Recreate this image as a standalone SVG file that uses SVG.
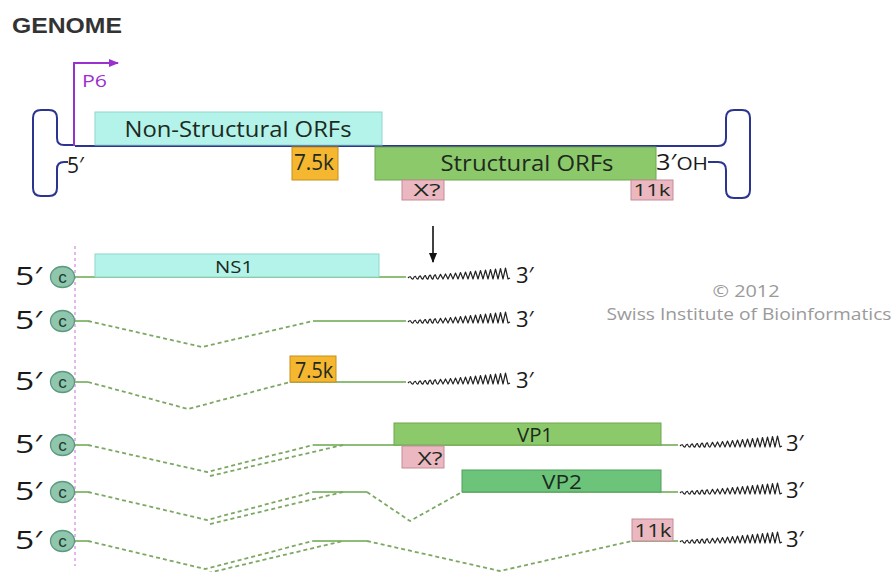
<svg xmlns="http://www.w3.org/2000/svg" xmlns:xlink="http://www.w3.org/1999/xlink" width="895" height="572" viewBox="0 0 895 572">
<style>
  .t{font-family:"Open Sans","Liberation Sans",sans-serif;fill:#1a1a1a}
  .hp{fill:none;stroke:#2b3590;stroke-width:2;stroke-linejoin:round}
  .ns{fill:#b3f3ea;stroke:#8fd6cc;stroke-width:1}
  .st{fill:#8cc96a;stroke:#6ea84f;stroke-width:1}
  .vp2{fill:#6cc47a;stroke:#4f9e5a;stroke-width:1}
  .or{fill:#f5b630;stroke:#c58f1c;stroke-width:1}
  .pk{fill:#ebb8c1;stroke:#c38c96;stroke-width:1}
  .sol{fill:none;stroke:#6aa84f;stroke-width:1.6}
  .dsh{fill:none;stroke:#7ca863;stroke-width:1.8;stroke-dasharray:4 3}
  .cap{fill:#8fc6ad;stroke:#5c9a80;stroke-width:1.3}
  .ct{font-family:"Liberation Sans",sans-serif;font-size:17px;fill:#1a3a2a;text-anchor:middle}
  .pa{fill:none;stroke:#222;stroke-width:1.2;stroke-linejoin:round}
  .lbl{font-family:"Open Sans","Liberation Sans",sans-serif;fill:#1d2a20;text-anchor:middle}
  .five{font-family:"Open Sans","Liberation Sans",sans-serif;font-size:26px;fill:#1a1a1a}
  .three{font-family:"Open Sans","Liberation Sans",sans-serif;font-size:22px;fill:#1a1a1a}
  .cp{font-family:"Open Sans","Liberation Sans",sans-serif;font-size:16px;fill:#9a9a9a;text-anchor:middle}
</style>
<defs>
  <path id="polyA" class="pa" d="M0,0 Q1.25,-1.5 2.5,-1.2 Q3.75,1.5 5,1 Q6.25,-2 7.5,-1.6 Q8.75,1.5 10,1 Q11.25,-2.4 12.5,-2 Q13.75,1.5 15,1 Q16.25,-2.8 17.5,-2.4 Q18.75,1.5 20,1 Q21.25,-3.2 22.5,-2.8 Q23.75,1.5 25,1 Q26.25,-3.6 27.5,-3.2 Q28.75,1.5 30,1 L32.5,-3.6 L35,1 L37.5,-4 L40,1 L42.5,-4.5 L45,1 L47.5,-5 L50,1 L52.5,-5.5 L55,1 L57.5,-6 L60,1 L62.5,-6.5 L65,1 L67.5,-7 L70,1 L72.5,-7.5 L75,1 L77.5,-8 L80,1 L82.5,-8.5 L85,1 L87.5,-9 L90,1 L92.5,-9.5 L95,1 L97.5,-10 L100,1 L102,0"/>
  <marker id="ahP" markerWidth="10" markerHeight="8" refX="9" refY="4" orient="auto" markerUnits="userSpaceOnUse">
    <path d="M0,0 L10,4 L0,8 Z" fill="#9b30d0"/>
  </marker>
  <marker id="ahK" markerWidth="8" markerHeight="10" refX="4" refY="9" orient="0" markerUnits="userSpaceOnUse">
    <path d="M0,0 L8,0 L4,10 Z" fill="#111"/>
  </marker>
</defs>
<rect width="895" height="572" fill="#fff"/>

<g id="title"><text x="12" y="33" font-family="Liberation Sans,Arial,sans-serif" font-weight="bold" font-size="22" textLength="110" lengthAdjust="spacingAndGlyphs" fill="#333">GENOME</text></g>

<g id="genome">
  <path class="hp" d="M75,145 L64,145 Q57,145 57,138 L57,118 Q57,110 49,110 L41,110 Q33,110 33,118 L33,188 Q33,196 41,196 L49,196 Q57,196 57,188 L57,169 Q57,162 64,162 L68,162"/>
  <path class="hp" d="M708,162 L718,162 Q726,162 726,170 L726,190 Q726,198 734,198 L742,198 Q750,198 750,190 L750,118 Q750,110 742,110 L734,110 Q726,110 726,118 L726,138 Q726,146 718,146 L75,146"/>
  <text class="t" x="67" y="173" font-size="21">5′</text>
  <text class="t" x="656" y="170" font-size="22" textLength="52" lengthAdjust="spacingAndGlyphs">3′<tspan font-size="18">OH</tspan></text>
</g>

<g id="p6">
  <path d="M74,146 L74,63 L118,63" fill="none" stroke="#9b30d0" stroke-width="2" marker-end="url(#ahP)"/>
  <text x="82" y="87" font-family="Open Sans,Liberation Sans,sans-serif" font-size="16" textLength="25" lengthAdjust="spacingAndGlyphs" fill="#9b30d0">P6</text>
</g>

<g id="orf-nonstructural">
  <rect class="ns" x="95" y="112" width="287" height="33"/>
  <text class="lbl" x="238" y="137" font-size="21" textLength="227" lengthAdjust="spacingAndGlyphs">Non-Structural ORFs</text>
</g>
<g id="orf-7-5k">
  <rect class="or" x="292" y="147" width="46" height="33"/>
  <text class="lbl" x="314" y="170" font-size="21" textLength="40" lengthAdjust="spacingAndGlyphs">7.5k</text>
</g>
<g id="orf-structural">
  <rect class="st" x="375" y="147" width="281" height="33"/>
  <text class="lbl" x="527" y="171" font-size="21" textLength="173" lengthAdjust="spacingAndGlyphs">Structural ORFs</text>
</g>
<g id="orf-x">
  <rect class="pk" x="402" y="180" width="42" height="20"/>
  <text class="lbl" x="427" y="196" font-size="17" textLength="27" lengthAdjust="spacingAndGlyphs">X?</text>
</g>
<g id="orf-11k">
  <rect class="pk" x="631" y="180" width="42" height="20"/>
  <text class="lbl" x="652" y="196" font-size="17" textLength="37" lengthAdjust="spacingAndGlyphs">11k</text>
</g>

<g id="copyright">
  <text class="cp" x="746" y="297" font-size="17" textLength="67" lengthAdjust="spacingAndGlyphs">© 2012</text>
  <text class="cp" x="749" y="320" font-size="17" textLength="285" lengthAdjust="spacingAndGlyphs">Swiss Institute of Bioinformatics</text>
</g>

<g id="connectors">
  <line x1="75" y1="246" x2="75" y2="566" stroke="#d9a3e3" stroke-width="1.5" stroke-dasharray="3 3"/>
  <line x1="433" y1="226" x2="433" y2="262" stroke="#111" stroke-width="1.6" marker-end="url(#ahK)"/>
  <!-- row 1 -->
  <path class="sol" d="M72,277 L406,277"/>
  <!-- row 2 -->
  <path class="sol" d="M72,321 L88,321 M313,321 L406,321"/>
  <path class="dsh" d="M88,321 L202,347 L313,321"/>
  <!-- row 3 -->
  <path class="sol" d="M72,382 L88,382 M290,382 L406,382"/>
  <path class="dsh" d="M88,382 L188,409 L290,382"/>
  <!-- row 4 -->
  <path class="sol" d="M72,445 L88,445 M313,445 L678,445"/>
  <path class="dsh" d="M88,445 L207,472 L313,445 M210,476 L343,445"/>
  <!-- row 5 -->
  <path class="sol" d="M72,492 L88,492 M313,492 L367,492 M462,492 L678,492"/>
  <path class="dsh" d="M88,492 L207,520 L313,492 M210,524 L343,492 M367,492 L410,521 L462,492"/>
  <!-- row 6 -->
  <path class="sol" d="M72,541 L88,541 M313,541 L367,541 M632,541 L678,541"/>
  <path class="dsh" d="M88,541 L205,569 L313,541 M208,573 L343,541 M367,541 L500,571 L632,541"/>
</g>

<g id="row1">
  <text class="five" x="15" y="285" textLength="27" lengthAdjust="spacingAndGlyphs">5′</text>
  <ellipse class="cap" cx="62.5" cy="277" rx="12" ry="10.5"/><text class="ct" x="62.5" y="283">c</text>
  <rect class="ns" x="95" y="254" width="284" height="23"/>
  <text class="lbl" x="234" y="273" font-size="17" textLength="38" lengthAdjust="spacingAndGlyphs">NS1</text>
  <use href="#polyA" x="408" y="278"/>
  <text class="three" x="516" y="283">3′</text>
</g>
<g id="row2">
  <text class="five" x="15" y="329" textLength="27" lengthAdjust="spacingAndGlyphs">5′</text>
  <ellipse class="cap" cx="62.5" cy="321" rx="12" ry="10.5"/><text class="ct" x="62.5" y="327">c</text>
  <use href="#polyA" x="408" y="322"/>
  <text class="three" x="516" y="327">3′</text>
</g>
<g id="row3">
  <text class="five" x="15" y="390" textLength="27" lengthAdjust="spacingAndGlyphs">5′</text>
  <ellipse class="cap" cx="62.5" cy="382" rx="12" ry="10.5"/><text class="ct" x="62.5" y="388">c</text>
  <rect class="or" x="290" y="356" width="46" height="26"/>
  <text class="lbl" x="314" y="378" font-size="21" textLength="38" lengthAdjust="spacingAndGlyphs">7.5k</text>
  <use href="#polyA" x="408" y="383"/>
  <text class="three" x="516" y="388">3′</text>
</g>
<g id="row4">
  <text class="five" x="15" y="453" textLength="27" lengthAdjust="spacingAndGlyphs">5′</text>
  <ellipse class="cap" cx="62.5" cy="445" rx="12" ry="10.5"/><text class="ct" x="62.5" y="451">c</text>
  <rect class="st" x="394" y="423" width="267" height="22"/>
  <text class="lbl" x="535" y="442" font-size="20" textLength="36" lengthAdjust="spacingAndGlyphs">VP1</text>
  <rect class="pk" x="402" y="446" width="42" height="22"/>
  <text class="lbl" x="430" y="465" font-size="19" textLength="25" lengthAdjust="spacingAndGlyphs">X?</text>
  <use href="#polyA" x="680" y="446"/>
  <text class="three" x="786" y="451">3′</text>
</g>
<g id="row5">
  <text class="five" x="15" y="500" textLength="27" lengthAdjust="spacingAndGlyphs">5′</text>
  <ellipse class="cap" cx="62.5" cy="492" rx="12" ry="10.5"/><text class="ct" x="62.5" y="498">c</text>
  <rect class="vp2" x="462" y="470" width="199" height="22"/>
  <text class="lbl" x="562" y="489" font-size="20" textLength="40" lengthAdjust="spacingAndGlyphs">VP2</text>
  <use href="#polyA" x="680" y="493"/>
  <text class="three" x="786" y="498">3′</text>
</g>
<g id="row6">
  <text class="five" x="15" y="549" textLength="27" lengthAdjust="spacingAndGlyphs">5′</text>
  <ellipse class="cap" cx="62.5" cy="541" rx="12" ry="10.5"/><text class="ct" x="62.5" y="547">c</text>
  <rect class="pk" x="632" y="519" width="41" height="22"/>
  <text class="lbl" x="653" y="537" font-size="19" textLength="37" lengthAdjust="spacingAndGlyphs">11k</text>
  <use href="#polyA" x="680" y="542"/>
  <text class="three" x="786" y="547">3′</text>
</g>
</svg>
